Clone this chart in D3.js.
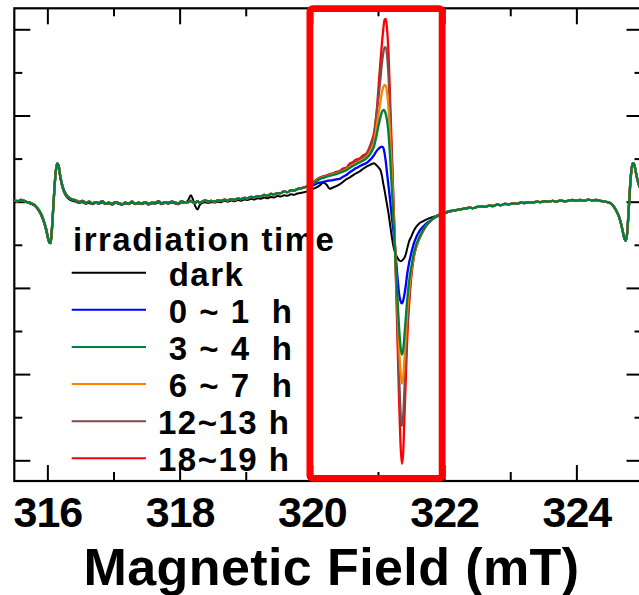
<!DOCTYPE html>
<html><head><meta charset="utf-8">
<script src="https://cdn.jsdelivr.net/npm/d3@7"></script>
<style>html,body{margin:0;padding:0;background:#fff;overflow:hidden}</style>
</head><body><svg id="chart" width="639" height="595"></svg>
<script>
// ---------- DATA ----------
const seriesLabels = [" dark", " 0 ~ 1  h", " 3 ~ 4  h", " 6 ~ 7  h", "12~13 h", "18~19 h"];
const seriesColors = ["#000000", "#0000ff", "#008040", "#ff8000", "#7f4c4c", "#ff0000"];
const legendTitle = "irradiation time";
const xTitle = "Magnetic Field (mT)";
const xMajorTicks = [316, 318, 320, 322, 324];
const xMinorTicks = [317, 319, 321, 323, 325];
const yMajorTicks = [-6, -4, -2, 0, 2, 4];
const yMinorTicks = [-5, -3, -1, 1, 3];
const boxField = [319.97, 321.97];
const boxIntensity = [-6.42, 4.48];

const fieldLeft = [
 315.50, 315.55, 315.60, 315.65, 315.70, 315.75, 315.80, 315.85, 315.90, 315.94,
 315.98, 316.01, 316.03, 316.05, 316.07, 316.09, 316.11, 316.13, 316.15, 316.17,
 316.19, 316.22, 316.25, 316.29, 316.33, 316.38, 316.43, 316.48, 316.53, 316.58,
 316.63, 316.68, 316.73, 316.78, 316.83, 316.88, 316.93, 316.98, 317.03, 317.08,
 317.13, 317.18, 317.23, 317.28, 317.33, 317.38, 317.43, 317.48, 317.53, 317.58,
 317.63, 317.68, 317.73, 317.78, 317.83, 317.88, 317.93, 317.98, 318.03, 318.08,
 318.13, 318.17, 318.20, 318.23, 318.27, 318.30, 318.34, 318.38, 318.43, 318.48,
 318.53, 318.58, 318.63, 318.68, 318.73, 318.78, 318.83, 318.88, 318.93, 318.98,
 319.03, 319.08, 319.13, 319.18, 319.23, 319.28, 319.33, 319.38, 319.43, 319.48,
 319.53, 319.58, 319.63, 319.68, 319.73, 319.78, 319.83, 319.88, 319.93, 319.97];
const wingLeftLight = [
 0.03, 0.01, 0.04, 0.02, -0.01, -0.03, -0.07, -0.15, -0.27, -0.42,
 -0.63, -0.84, -0.95, -0.96, -0.62, -0.12, 0.38, 0.74, 0.89, 0.84,
 0.64, 0.41, 0.26, 0.15, 0.09, 0.05, 0.03, -0.01, 0.02, -0.03,
 0.00, -0.04, -0.01, -0.03, 0.01, -0.04, -0.02, -0.05, -0.01, -0.03,
 -0.06, -0.02, -0.04, 0.00, -0.05, -0.02, -0.04, -0.01, -0.05, -0.02,
 -0.03, 0.01, -0.04, -0.01, -0.03, 0.00, -0.02, -0.04, 0.01, -0.02,
 -0.01, 0.02, -0.01, -0.03, 0.01, -0.02, 0.00, 0.03, 0.01, 0.02,
 0.00, 0.03, 0.02, 0.05, 0.03, 0.06, 0.04, 0.07, 0.06, 0.09,
 0.08, 0.11, 0.10, 0.13, 0.12, 0.16, 0.14, 0.18, 0.17, 0.20,
 0.20, 0.24, 0.22, 0.26, 0.26, 0.29, 0.31, 0.33, 0.36, 0.39];
const wingLeftDark = [
 0.02, 0.00, 0.03, 0.01, -0.02, -0.05, -0.09, -0.17, -0.30, -0.45,
 -0.66, -0.86, -0.95, -0.93, -0.58, -0.10, 0.36, 0.72, 0.86, 0.80,
 0.60, 0.37, 0.22, 0.12, 0.06, 0.02, 0.00, -0.03, -0.01, -0.05,
 -0.03, -0.06, -0.03, -0.05, -0.02, -0.06, -0.04, -0.07, -0.03, -0.05,
 -0.07, -0.04, -0.06, -0.02, -0.06, -0.04, -0.06, -0.03, -0.07, -0.04,
 -0.05, -0.02, -0.06, -0.03, -0.05, -0.02, -0.04, -0.06, -0.02, -0.03,
 0.04, 0.15, 0.06, -0.08, -0.18, -0.09, -0.03, -0.01, -0.03, -0.01,
 -0.02, 0.00, -0.01, 0.02, 0.00, 0.03, 0.01, 0.04, 0.02, 0.05,
 0.04, 0.07, 0.05, 0.08, 0.07, 0.10, 0.08, 0.11, 0.10, 0.13,
 0.12, 0.15, 0.14, 0.17, 0.16, 0.19, 0.20, 0.22, 0.24, 0.27];

const fieldCore = [
 320.02, 320.07, 320.12, 320.17, 320.22, 320.27, 320.32, 320.37, 320.42, 320.47,
 320.52, 320.57, 320.62, 320.67, 320.72, 320.77, 320.82, 320.86, 320.90, 320.94,
 320.98, 321.01, 321.04, 321.06, 321.08, 321.10, 321.12, 321.14, 321.16, 321.18,
 321.20, 321.22, 321.24, 321.26, 321.28, 321.30, 321.32, 321.34, 321.36, 321.38,
 321.40, 321.42, 321.44, 321.47, 321.50, 321.54, 321.58, 321.62, 321.67, 321.72,
 321.78, 321.84, 321.90, 321.96, 322.02, 322.08, 322.14, 322.20];
const coreDark = [
 0.30, 0.33, 0.38, 0.44, 0.40, 0.30, 0.33, 0.36, 0.40, 0.46,
 0.52, 0.56, 0.61, 0.66, 0.70, 0.76, 0.81, 0.84, 0.87, 0.89,
 0.84, 0.79, 0.72, 0.60, 0.42, 0.26, 0.08, -0.10, -0.28, -0.50,
 -0.72, -0.92, -1.08, -1.18, -1.26, -1.32, -1.36, -1.38, -1.37, -1.34,
 -1.30, -1.22, -1.10, -0.92, -0.82, -0.68, -0.58, -0.51, -0.46, -0.42,
 -0.38, -0.35, -0.32, -0.29, -0.26, -0.23, -0.21, -0.19];
const core0to1 = [
 0.38, 0.42, 0.44, 0.46, 0.48, 0.49, 0.50, 0.52, 0.53, 0.58,
 0.62, 0.68, 0.73, 0.78, 0.82, 0.86, 0.89, 0.94, 1.00, 1.08,
 1.18, 1.23, 1.27, 1.28, 1.25, 1.12, 0.90, 0.62, 0.35, 0.08,
 -0.22, -0.50, -0.78, -1.10, -1.48, -1.85, -2.15, -2.30, -2.36, -2.30,
 -2.15, -1.95, -1.70, -1.42, -1.22, -0.98, -0.82, -0.70, -0.60, -0.52,
 -0.45, -0.39, -0.34, -0.29, -0.26, -0.23, -0.21, -0.19];
const core3to4 = [
 0.42, 0.47, 0.53, 0.55, 0.58, 0.60, 0.62, 0.64, 0.67, 0.70,
 0.73, 0.78, 0.83, 0.87, 0.91, 0.95, 1.00, 1.06, 1.15, 1.28,
 1.55, 1.78, 1.98, 2.08, 2.13, 2.11, 2.02, 1.85, 1.55, 1.10,
 0.55, 0.00, -0.60, -1.20, -1.80, -2.40, -2.95, -3.35, -3.55, -3.45,
 -3.10, -2.70, -2.30, -1.85, -1.55, -1.22, -0.99, -0.84, -0.69, -0.57,
 -0.46, -0.38, -0.32, -0.28, -0.25, -0.22, -0.20, -0.19];
const core6to7 = [
 0.43, 0.48, 0.54, 0.56, 0.59, 0.61, 0.64, 0.65, 0.68, 0.71,
 0.75, 0.80, 0.85, 0.89, 0.93, 0.98, 1.03, 1.10, 1.22, 1.38,
 1.75, 2.05, 2.35, 2.55, 2.66, 2.71, 2.68, 2.50, 2.15, 1.60,
 0.95, 0.30, -0.40, -1.10, -1.90, -2.65, -3.40, -3.95, -4.22, -4.10,
 -3.65, -3.10, -2.60, -2.05, -1.65, -1.26, -1.02, -0.86, -0.70, -0.57,
 -0.46, -0.38, -0.32, -0.28, -0.25, -0.22, -0.20, -0.19];
const core12to13 = [
 0.44, 0.49, 0.55, 0.57, 0.60, 0.62, 0.65, 0.66, 0.70, 0.73,
 0.77, 0.83, 0.88, 0.92, 0.97, 1.02, 1.08, 1.17, 1.32, 1.52,
 2.05, 2.45, 2.90, 3.22, 3.45, 3.58, 3.58, 3.35, 2.90, 2.15,
 1.35, 0.55, -0.30, -1.15, -2.10, -3.10, -4.05, -4.85, -5.20, -5.00,
 -4.35, -3.65, -2.95, -2.25, -1.72, -1.28, -1.03, -0.87, -0.71, -0.58,
 -0.47, -0.39, -0.32, -0.28, -0.25, -0.22, -0.20, -0.19];
const core18to19 = [
 0.45, 0.51, 0.56, 0.59, 0.61, 0.64, 0.66, 0.69, 0.71, 0.77,
 0.79, 0.88, 0.92, 0.98, 1.00, 1.07, 1.11, 1.22, 1.38, 1.60,
 2.10, 2.70, 3.30, 3.68, 4.00, 4.22, 4.24, 3.95, 3.40, 2.55,
 1.60, 0.70, -0.25, -1.20, -2.30, -3.50, -4.65, -5.60, -6.08, -5.85,
 -5.00, -4.15, -3.25, -2.40, -1.80, -1.30, -1.05, -0.88, -0.72, -0.58,
 -0.47, -0.38, -0.32, -0.28, -0.25, -0.22, -0.21, -0.19];

const fieldRight = [
 322.26, 322.32, 322.38, 322.44, 322.50, 322.56, 322.62, 322.68, 322.74, 322.80,
 322.86, 322.92, 322.98, 323.04, 323.10, 323.16, 323.22, 323.28, 323.34, 323.40,
 323.46, 323.52, 323.58, 323.64, 323.70, 323.76, 323.82, 323.88, 323.94, 324.00,
 324.06, 324.12, 324.18, 324.24, 324.30, 324.36, 324.42, 324.47, 324.52, 324.56,
 324.60, 324.64, 324.67, 324.70, 324.73, 324.75, 324.77, 324.79, 324.81, 324.83,
 324.85, 324.87, 324.89, 324.91, 324.93, 324.95, 324.97, 325.00];
const wingRight = [
 -0.17, -0.16, -0.14, -0.15, -0.12, -0.11, -0.12, -0.09, -0.10, -0.07,
 -0.08, -0.05, -0.06, -0.04, -0.05, -0.02, -0.03, -0.01, -0.02, 0.00,
 -0.01, 0.01, 0.00, 0.02, 0.00, 0.03, 0.01, 0.02, 0.04, 0.02,
 0.04, 0.02, 0.05, 0.03, 0.04, 0.02, 0.01, -0.01, -0.04, -0.10,
 -0.20, -0.33, -0.48, -0.68, -0.87, -0.90, -0.70, -0.22, 0.30, 0.70,
 0.89, 0.88, 0.76, 0.60, 0.47, 0.37, 0.30, 0.22];

const coreSeries = [coreDark, core0to1, core3to4, core6to7, core12to13, core18to19];
const drawOrder = [0, 1, 5, 4, 3, 2];

// ---------- CHART ----------
const FONT = "'Liberation Sans', Arial, Helvetica, sans-serif";
const svg = d3.select("#chart");
const plot = {left: 14.3, right: 642.5, top: 8.3, bottom: 481};
const x = d3.scaleLinear().domain([315.5, 325]).range([plot.left, plot.right]);
const y = d3.scaleLinear().domain([-6.48, 4.487]).range([plot.bottom, plot.top]);

svg.append("rect").attr("width", 639).attr("height", 595).attr("fill", "#fff");

svg.append("defs").append("clipPath").attr("id", "clip")
  .append("rect").attr("x", plot.left).attr("y", plot.top)
  .attr("width", plot.right - plot.left).attr("height", plot.bottom - plot.top);

function styleAxis(g) {
  g.select(".domain").remove();
  g.selectAll(".tick line").attr("stroke", "#000").attr("stroke-width", 2);
}
// bottom
svg.append("g").attr("transform", `translate(0,${plot.bottom})`)
  .call(d3.axisBottom(x).tickValues(xMajorTicks).tickSizeInner(-16).tickSizeOuter(0).tickPadding(15).tickFormat(d3.format("d")))
  .call(styleAxis)
  .call(g => g.selectAll("text").attr("font-family", FONT).attr("font-weight", "bold")
      .attr("font-size", 43).attr("letter-spacing", "-1px").attr("fill", "#000"));
svg.append("g").attr("transform", `translate(0,${plot.bottom})`)
  .call(d3.axisBottom(x).tickValues(xMinorTicks).tickSizeInner(-9).tickSizeOuter(0).tickFormat(""))
  .call(styleAxis);
// top
svg.append("g").attr("transform", `translate(0,${plot.top})`)
  .call(d3.axisTop(x).tickValues(xMajorTicks).tickSizeInner(-16).tickSizeOuter(0).tickFormat(""))
  .call(styleAxis);
svg.append("g").attr("transform", `translate(0,${plot.top})`)
  .call(d3.axisTop(x).tickValues(xMinorTicks).tickSizeInner(-8).tickSizeOuter(0).tickFormat(""))
  .call(styleAxis);
// left
svg.append("g").attr("transform", `translate(${plot.left},0)`)
  .call(d3.axisLeft(y).tickValues(yMajorTicks).tickSizeInner(-16).tickSizeOuter(0).tickFormat(""))
  .call(styleAxis);
svg.append("g").attr("transform", `translate(${plot.left},0)`)
  .call(d3.axisLeft(y).tickValues(yMinorTicks).tickSizeInner(-8).tickSizeOuter(0).tickFormat(""))
  .call(styleAxis);
// right
svg.append("g").attr("transform", `translate(${plot.right},0)`)
  .call(d3.axisRight(y).tickValues(yMajorTicks).tickSizeInner(-16).tickSizeOuter(0).tickFormat(""))
  .call(styleAxis);
svg.append("g").attr("transform", `translate(${plot.right},0)`)
  .call(d3.axisRight(y).tickValues(yMinorTicks).tickSizeInner(-8).tickSizeOuter(0).tickFormat(""))
  .call(styleAxis);

// frame
svg.append("rect").attr("x", plot.left).attr("y", plot.top)
  .attr("width", plot.right - plot.left).attr("height", plot.bottom - plot.top)
  .attr("fill", "none").attr("stroke", "#000").attr("stroke-width", 2.2);

// spectra
const line = d3.line().x(d => x(d[0])).y(d => y(d[1])).curve(d3.curveMonotoneX);
const gLines = svg.append("g").attr("clip-path", "url(#clip)");
drawOrder.forEach(i => {
  const left = i === 0 ? wingLeftDark : wingLeftLight;
  const pts = [];
  fieldLeft.forEach((f, k) => pts.push([f, left[k]]));
  fieldCore.forEach((f, k) => pts.push([f, coreSeries[i][k]]));
  fieldRight.forEach((f, k) => pts.push([f, wingRight[k]]));
  gLines.append("path").datum(pts).attr("d", line)
    .attr("fill", "none").attr("stroke", seriesColors[i])
    .attr("stroke-width", i === 0 ? 2 : 2.3).attr("stroke-linejoin", "round");
});

// legend
const legend = svg.append("g");
legend.append("text").attr("x", 73).attr("y", 250.7).text(legendTitle)
  .attr("font-family", FONT).attr("font-weight", "bold").attr("font-size", 33)
  .attr("letter-spacing", "1.5px").attr("fill", "#000");
seriesLabels.forEach((lab, i) => {
  const ly = 272.7 + i * 37.12;
  legend.append("line").attr("x1", 71.7).attr("x2", 146).attr("y1", ly).attr("y2", ly)
    .attr("stroke", seriesColors[i]).attr("stroke-width", 2);
  legend.append("text").attr("x", 158).attr("y", ly + 13).text(lab)
    .attr("xml:space", "preserve").style("white-space", "pre")
    .attr("font-family", FONT).attr("font-weight", "bold").attr("font-size", 33)
    .attr("letter-spacing", "1.5px").attr("fill", "#000");
});

// highlight box
svg.append("rect")
  .attr("x", x(boxField[0])).attr("y", y(boxIntensity[1]))
  .attr("width", x(boxField[1]) - x(boxField[0]))
  .attr("height", y(boxIntensity[0]) - y(boxIntensity[1]))
  .attr("rx", 3).attr("fill", "none").attr("stroke", "#ff0000").attr("stroke-width", 6.8);

// x title
svg.append("text").attr("x", 331.5).attr("y", 585).attr("text-anchor", "middle")
  .text(xTitle).attr("font-family", FONT).attr("font-weight", "bold")
  .attr("font-size", 52).attr("letter-spacing", "0.4px").attr("fill", "#000");
</script></body></html>
